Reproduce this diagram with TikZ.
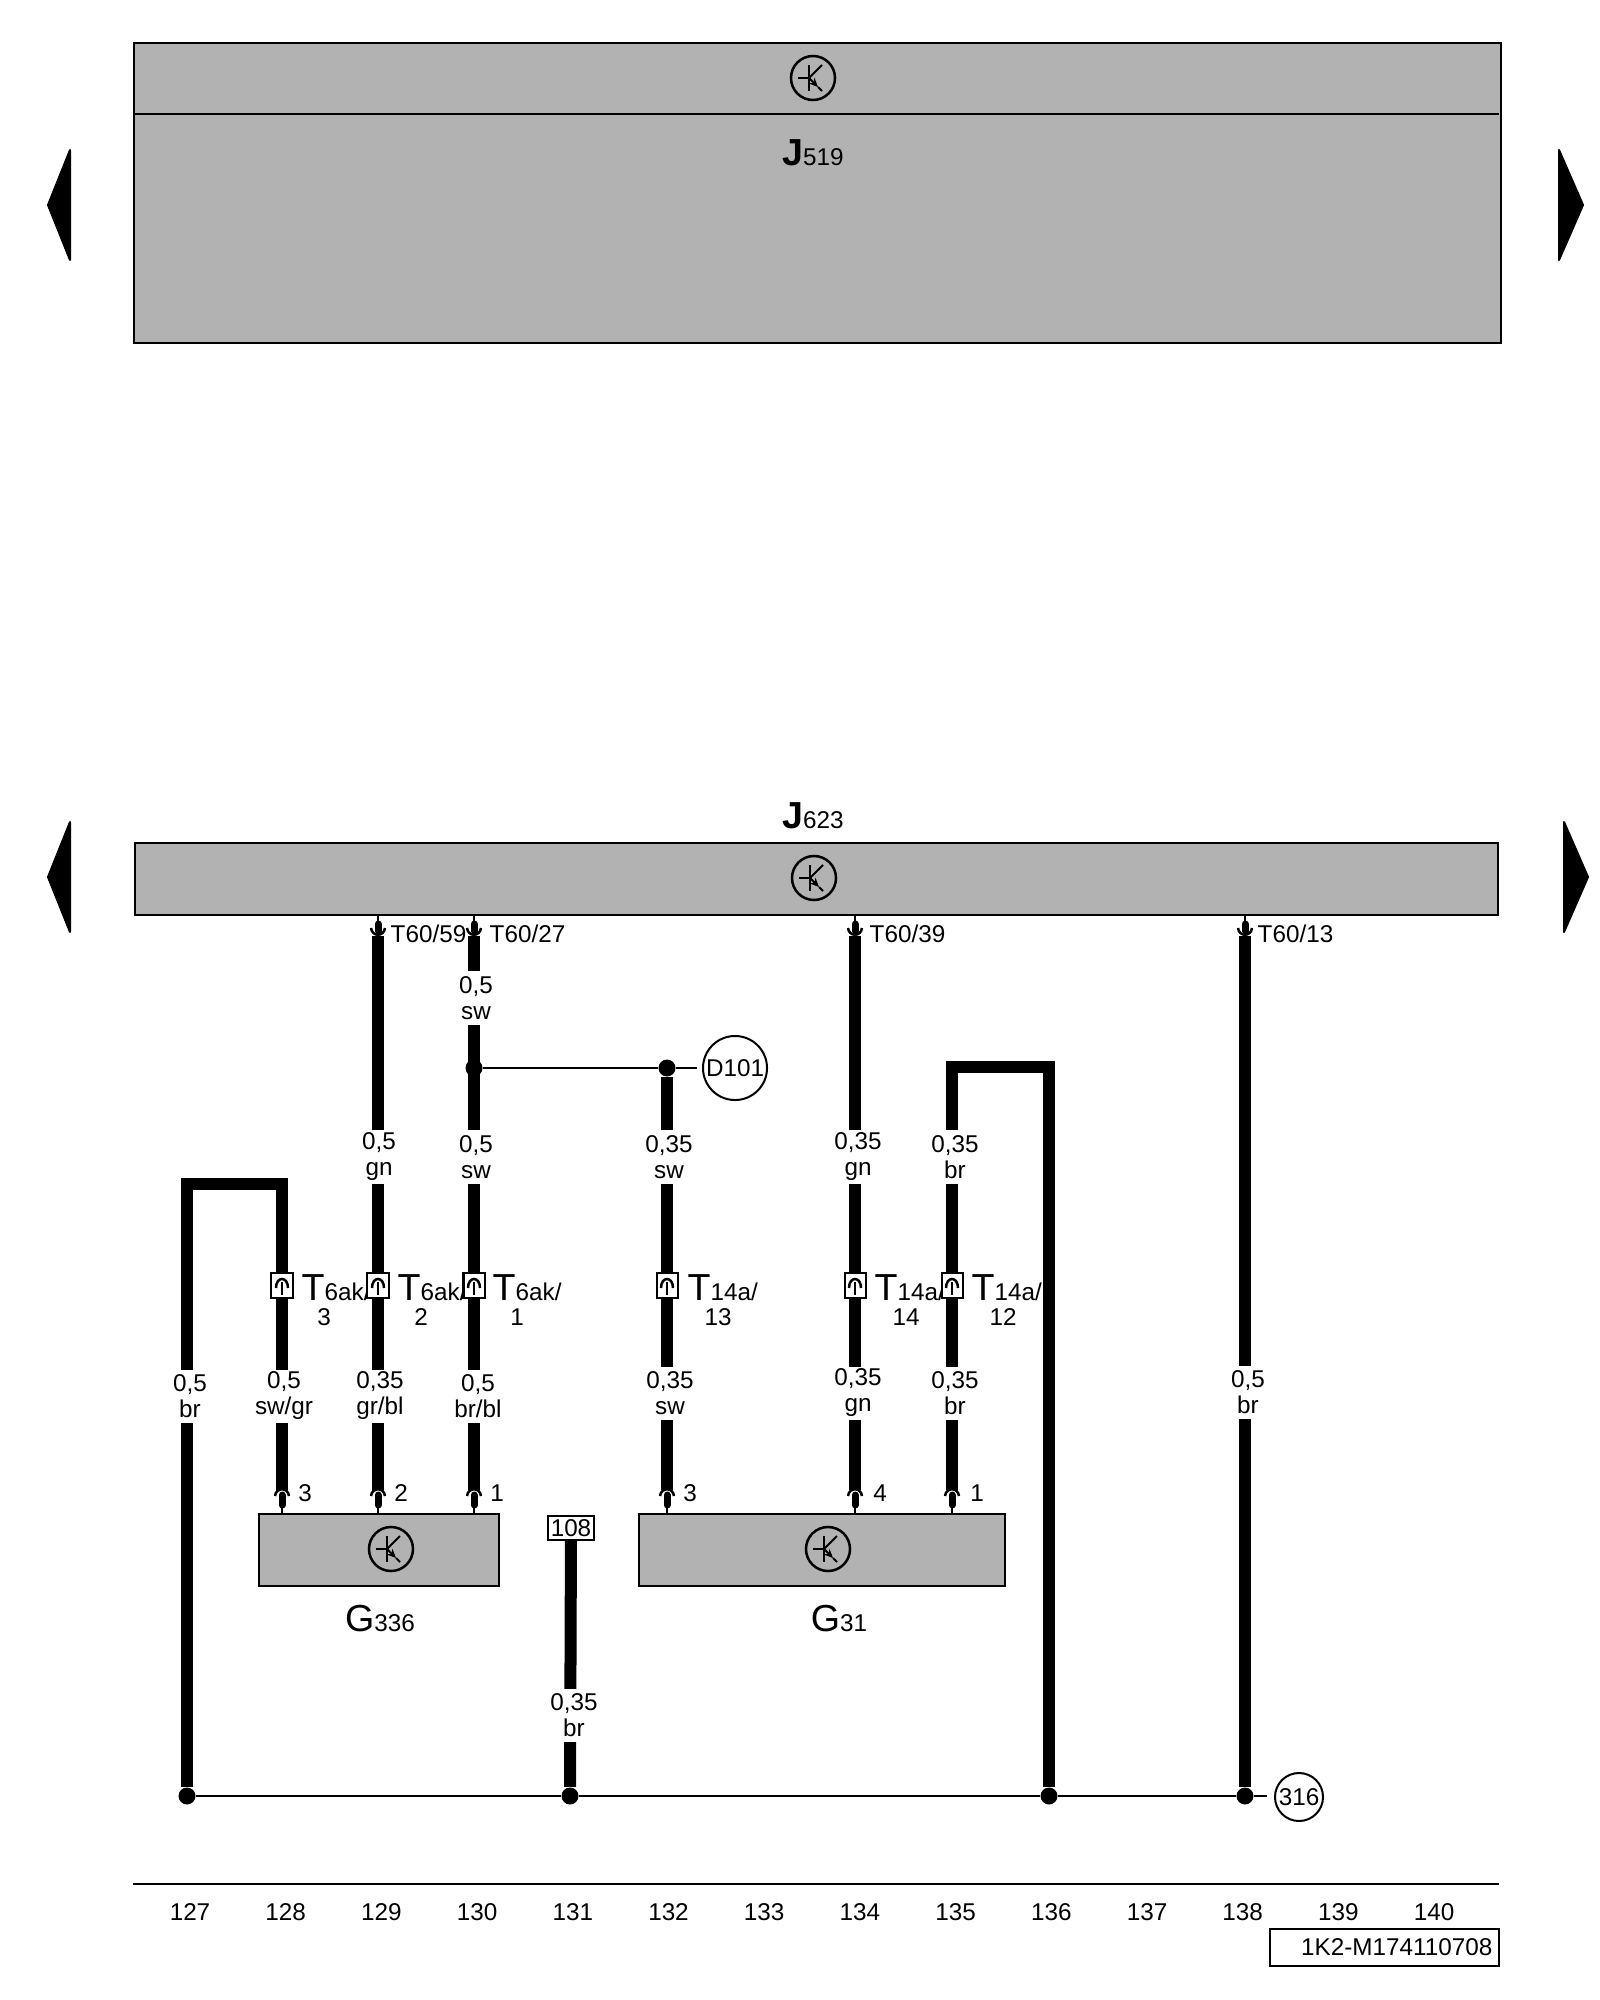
\documentclass[tikz,border=0pt]{standalone}
\usepackage{fontspec}
\setmainfont{Liberation Sans}
\usetikzlibrary{arrows.meta,positioning}

\definecolor{boxgray}{HTML}{B2B2B2}

\tikzset{
    unit/.style={draw=black, fill=boxgray, line width=0.02cm},
    wire/.style={black, line width=0.12cm},
    bus/.style={black, line width=0.02cm},
    thinpin/.style={black, line width=0.02cm},
    pinstub/.style={black, line width=0.07cm, line cap=round},
    pincup/.style={black, line width=0.025cm},
    symcircle/.style={circle, draw=black, line width=0.025cm, minimum size=0.44cm, inner sep=0pt},
    symline/.style={black, line width=0.02cm},
    wirelabel/.style={fill=white, inner sep=0pt, minimum height=0.53cm, align=center,
        font=\fontsize{6.9}{7.4}\selectfont},
    smalltext/.style={inner sep=0pt, font=\fontsize{6.9}{8}\selectfont},
    biglabel/.style={inner sep=0pt, font=\fontsize{10.7}{12}\selectfont},
    connbox/.style={draw=black, fill=white, line width=0.02cm, minimum width=0.21cm,
        minimum height=0.25cm, inner sep=0pt},
    refcircle/.style={circle, draw=black, line width=0.02cm, inner sep=0pt,
        font=\fontsize{6.9}{8}\selectfont},
    junction/.style={circle, fill=black, minimum size=0.17cm, inner sep=0pt},
    pagemark/.style={fill=black, draw=black, line width=0.02cm, line join=round},
}

% transistor symbol in a circle
\newcommand{\transsym}[3]{
    \node[symcircle] (#1) at (#2,#3) {};
    \draw[symline] (#2-4,#3-13) -- (#2-4,#3+13);
    \draw[symline] (#2-15,#3) -- (#2-4,#3);
    \draw[symline] (#2-4,#3) -- (#2+9,#3-13);
    \draw[symline, -{Stealth[length=0.09cm,width=0.08cm]}] (#2-4,#3) -- (#2+5,#3+9);
    \draw[symline] (#2+5,#3+9) -- (#2+9,#3+13);
}
% pin below a control unit, pin above a component
\newcommand{\pindown}[2]{
    \draw[thinpin] (#1,#2) -- (#1,#2+10);
    \draw[pinstub] (#1,#2+10) -- (#1,#2+17);
    \draw[pincup] (#1-7,#2+14) .. controls (#1-6,#2+23) and (#1+6,#2+23) .. (#1+7,#2+14);
}
\newcommand{\pinup}[2]{
    \draw[thinpin] (#1,#2) -- (#1,#2-8);
    \draw[pinstub] (#1,#2-8) -- (#1,#2-18);
    \draw[pincup] (#1-7,#2-17) .. controls (#1-6,#2-26) and (#1+6,#2-26) .. (#1+7,#2-17);
}

\begin{document}
\begin{tikzpicture}[x=0.01cm, y=-0.01cm]
    \useasboundingbox (0,0) rectangle (1600,2000);

    % Upper control unit
    \node[unit, anchor=north west, minimum width=13.66cm, minimum height=3cm, inner sep=0pt] (j519) at (133,42) {};
    \draw[bus] (133,114.5) -- (1499,114.5);
    \transsym{symj519}{813}{78}
    \node[biglabel] (j519text) at (813,153) {\textbf{J}{\fontsize{6.9}{8}\selectfont 519}};

    % Lower control unit
    \node[unit, anchor=north west, minimum width=13.62cm, minimum height=0.72cm, inner sep=0pt] (j623) at (134,842) {};
    \transsym{symj623}{814}{878}
    \node[biglabel] (j623text) at (813,816) {\textbf{J}{\fontsize{6.9}{8}\selectfont 623}};

    % Page marks
    \draw[pagemark] (48,205) -- (70,150) -- (70,260) -- cycle;
    \draw[pagemark] (1583,205) -- (1559,150) -- (1559,260) -- cycle;
    \draw[pagemark] (48,877) -- (70,822) -- (70,932) -- cycle;
    \draw[pagemark] (1588,877) -- (1564,822) -- (1564,932) -- cycle;

    % Sensors
    \node[unit, anchor=north west, minimum width=2.4cm, minimum height=0.72cm, inner sep=0pt] (g336) at (258,1513) {};
    \transsym{symg336}{391}{1549}
    \node[biglabel] (g336text) at (380,1619) {G{\fontsize{6.9}{8}\selectfont 336}};
    \node[unit, anchor=north west, minimum width=3.66cm, minimum height=0.72cm, inner sep=0pt] (g31) at (638,1513) {};
    \transsym{symg31}{828}{1549}
    \node[biglabel] (g31text) at (839,1619) {G{\fontsize{6.9}{8}\selectfont 31}};

    % Reference circles and terminal box
    \node[refcircle, minimum size=0.64cm] (d101) at (735,1068) {D101};
    \node[refcircle, minimum size=0.48cm] (gnd316) at (1299,1797) {316};
    \node[draw=black, fill=white, line width=0.02cm, minimum width=0.46cm, minimum height=0.24cm, inner sep=0pt,
        font=\fontsize{6.9}{8}\selectfont] (box108) at (571,1528) {108};

    % Junctions
    \node[junction] (jd1) at (474,1068) {};
    \node[junction] (jd2) at (667,1068) {};
    \node[junction] (jb1) at (187,1796) {};
    \node[junction] (jb2) at (570,1796) {};
    \node[junction] (jb3) at (1049,1796) {};
    \node[junction] (jb4) at (1245,1796) {};
    \coordinate (busend) at (1267,1796);
    \coordinate (dend) at (697,1068);

    % Wire ends
    \foreach \n/\x in {t59/378, t27/474, t39/855, t13/1245} {
        \coordinate (\n) at (\x,936);
        \pindown{\x}{914}
    }
    \foreach \n/\x in {s3/282, s2/378, s1/474, h3/667, h4/855, h1/952} {
        \coordinate (\n) at (\x,1490);
        \pinup{\x}{1513}
    }

    % Wires
    \draw[wire] (t59) -- (s2);
    \draw[wire] (t27) -- (s1);
    \draw[wire] (t39) -- (h4);
    \draw[wire] (t13) -- (jb4);
    \draw[wire] (jd2) -- (h3);
    \draw[wire] (box108) -- (jb2);
    \draw[wire] (s3) -- (282,1184) -- (187,1184) -- (jb1);
    \draw[wire] (h1) -- (952,1067) -- (1049,1067) -- (jb3);
    \draw[bus] (jd1) -- (jd2) -- (dend);
    \draw[bus] (jb1) -- (jb2) -- (jb3) -- (jb4) -- (busend);

    % Wire labels
    \foreach \x/\y/\size/\col/\n in {476/998/{0,5}/sw/a, 379/1157/{0,5}/gn/b, 476/1157/{0,5}/sw/c, 669/1157/{0,35}/sw/d,
        858/1157/{0,35}/gn/e, 955/1157/{0,35}/br/f, 190/1396/{0,5}/br/g, 284/1396/{0,5}/sw\slash gr/h,
        380/1396/{0,35}/gr\slash bl/i, 478/1396/{0,5}/br\slash bl/k, 670/1393/{0,35}/sw/l, 858/1393/{0,35}/gn/m,
        955/1393/{0,35}/br/o, 1248/1392/{0,5}/br/p, 574/1715/{0,35}/br/q} {
        \node[wirelabel] (wl\n) at (\x,\y) {\size\\\col};
    }

    % Plug connectors
    \foreach \x/\tx/\nx/\sub/\num/\n in {282/301/324/6ak/3/a, 378/397/421/6ak/2/b, 474/492/517/6ak/1/c,
        667/687/718/14a/13/d, 855/874/906/14a/14/e, 952/971/1003/14a/12/f} {
        \node[connbox] (conn\n) at (\x,1285) {};
        \draw[pincup] (\x-6,1288) .. controls (\x-6,1276) and (\x+6,1276) .. (\x+6,1288);
        \draw[symline] (\x,1282) -- (\x,1295);
        \node[biglabel, anchor=base west] (ctext\n) at (\tx,1300) {T{\fontsize{6.9}{8}\selectfont\sub/}};
        \node[smalltext, anchor=base] (cnum\n) at (\nx,1325) {\num};
    }

    % Pin texts
    \foreach \x/\y/\t/\n in {390/934/T60\slash 59/a, 489/934/T60\slash 27/b, 869/934/T60\slash 39/c, 1257/934/T60\slash 13/d} {
        \node[smalltext, anchor=west] (ptext\n) at (\x,\y) {\t};
    }
    \foreach \x/\t/\n in {305/3/e, 401/2/f, 497/1/g, 690/3/h, 880/4/i, 977/1/k} {
        \node[smalltext] (ptext\n) at (\x,1493) {\t};
    }

    % Footer
    \draw[bus] (133,1884) -- (1499,1884);
    \foreach \i [count=\c from 0] in {127,...,140} {
        \node[smalltext] (col\i) at ({190+95.7*\c},1912) {\i};
    }
    \node[draw=black, line width=0.02cm, minimum width=2.29cm, minimum height=0.37cm, inner sep=0pt] (codebox) at (1384.5,1947.5) {};
    \node[smalltext, anchor=east] (codetext) at (1493,1947) {1K2-M174110708};
\end{tikzpicture}
\end{document}
